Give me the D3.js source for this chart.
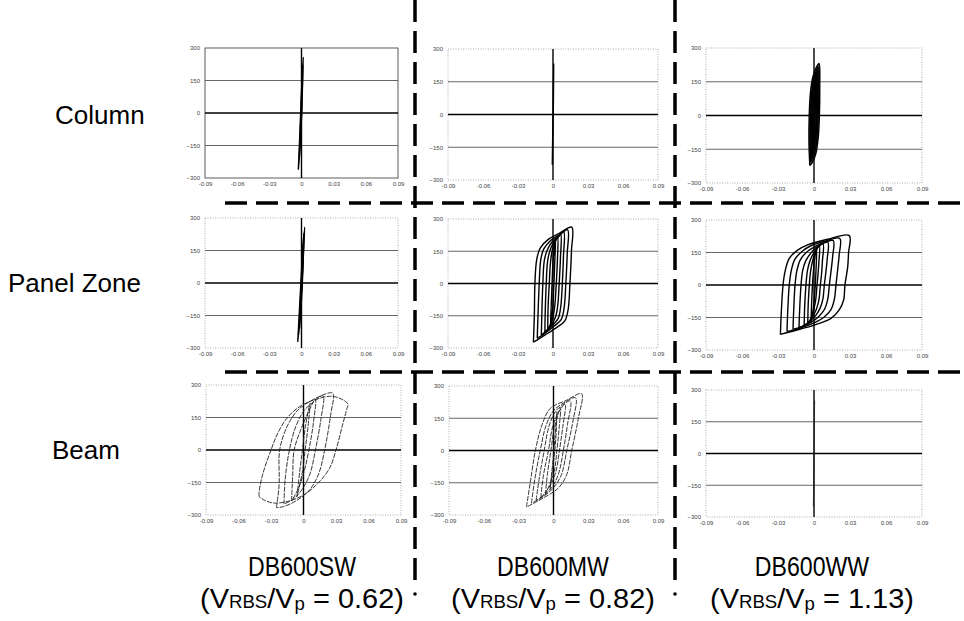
<!DOCTYPE html>
<html>
<head>
<meta charset="utf-8">
<script src="https://cdn.jsdelivr.net/npm/d3@7"></script>
<style>
  body { margin: 0; background: #fff; }
  svg { display: block; }
  text { font-family: "Liberation Sans", Arial, sans-serif; }
</style>
</head>
<body>
<svg width="964" height="621"></svg>
<script>
// Axis ticks
var xTicks = [-0.09, -0.06, -0.03, 0, 0.03, 0.06, 0.09];
var yTicks = [-300, -150, 0, 150, 300];

// Labels
var rowNames = ["Column", "Panel Zone", "Beam"];
var specimens = ["DB600SW", "DB600MW", "DB600WW"];
var shearRatios = ["0.62", "0.82", "1.13"];

// Hysteresis loops, [rotation, moment]
var columnSW = [
  [[-0.0030,-262],[-0.0020,-150],[-0.0008,0],[0.0004,150],[0.0017,258],[0.0010,150],[0.0000,0],[-0.0012,-150],[-0.0030,-262]],
  [[-0.0020,-200],[-0.0005,0],[0.0012,220],[0.0002,0],[-0.0020,-200]]
];
var columnMW = [
  [[-0.0006,-230],[0.0000,0],[0.0006,230],[0.0002,0],[-0.0006,-230]]
];
var columnWW = [
  [[-0.0035,-222],[-0.0042,-120],[-0.0040,0],[-0.0030,100],[-0.0010,170],[0.0020,215],[0.0042,231],[0.0048,130],[0.0045,0],[0.0035,-100],[0.0015,-170],[-0.0015,-210],[-0.0035,-222]],
  [[-0.0028,-205],[-0.0033,-100],[-0.0030,0],[-0.0020,100],[0.0000,165],[0.0035,215],[0.0040,110],[0.0035,0],[0.0025,-100],[0.0005,-165],[-0.0028,-205]],
  [[-0.0020,-190],[-0.0024,-80],[-0.0018,20],[-0.0008,110],[0.0028,200],[0.0030,90],[0.0024,-20],[0.0012,-110],[-0.0020,-190]],
  [[-0.0012,-170],[-0.0012,-50],[-0.0004,60],[0.0020,180],[0.0022,60],[0.0014,-60],[-0.0012,-170]],
  [[-0.0005,-150],[0.0000,0],[0.0014,160],[0.0008,0],[-0.0005,-150]]
];
var panelSW = [
  [[-0.0035,-272],[-0.0022,-150],[-0.0006,0],[0.0012,150],[0.0030,258],[0.0020,150],[0.0004,0],[-0.0014,-150],[-0.0035,-272]],
  [[-0.0028,-240],[-0.0012,-100],[0.0004,50],[0.0022,230],[0.0014,100],[-0.0002,-50],[-0.0028,-240]],
  [[-0.0018,-210],[0.0000,0],[0.0018,210],[0.0008,0],[-0.0018,-210]]
];
var panelMW = [
  [[-0.0168,-273],[-0.0160,-150],[-0.0155,0],[-0.0140,110],[-0.0110,165],[-0.0040,205],[0.0060,235],[0.0160,262],[0.0158,150],[0.0145,0],[0.0130,-120],[0.0100,-175],[0.0030,-205],[-0.0070,-240],[-0.0168,-273]],
  [[-0.0135,-255],[-0.0128,-140],[-0.0118,0],[-0.0105,110],[-0.0080,160],[-0.0020,200],[0.0060,228],[0.0125,250],[0.0122,140],[0.0110,0],[0.0095,-115],[0.0070,-168],[0.0010,-198],[-0.0060,-228],[-0.0135,-255]],
  [[-0.0100,-240],[-0.0095,-130],[-0.0087,0],[-0.0075,105],[-0.0050,155],[-0.0005,195],[0.0050,220],[0.0092,240],[0.0090,130],[0.0080,0],[0.0066,-110],[0.0045,-162],[0.0000,-192],[-0.0050,-218],[-0.0100,-240]],
  [[-0.0070,-228],[-0.0066,-120],[-0.0058,0],[-0.0047,100],[-0.0028,150],[0.0005,190],[0.0040,212],[0.0066,230],[0.0064,120],[0.0053,0],[0.0040,-105],[0.0022,-155],[-0.0005,-185],[-0.0040,-208],[-0.0070,-228]],
  [[-0.0045,-215],[-0.0042,-110],[-0.0032,0],[-0.0022,95],[-0.0008,150],[0.0010,185],[0.0028,205],[0.0040,218],[0.0038,110],[0.0028,0],[0.0016,-100],[0.0002,-150],[-0.0015,-180],[-0.0030,-200],[-0.0045,-215]],
  [[-0.0022,-205],[-0.0015,-100],[-0.0008,0],[0.0000,100],[0.0012,170],[0.0022,210],[0.0015,100],[0.0008,0],[0.0000,-100],[-0.0012,-170],[-0.0022,-205]]
];
var panelWW = [
  [[-0.0280,-228],[-0.0272,-120],[-0.0258,0],[-0.0242,61],[-0.0206,123],[-0.0136,161],[-0.0053,185],[0.0114,211],[0.0294,228],[0.0288,150],[0.0281,85],[0.0258,0],[0.0247,-69],[0.0210,-115],[0.0142,-154],[0.0000,-185],[-0.0164,-211],[-0.0280,-228]],
  [[-0.0225,-215],[-0.0218,-110],[-0.0206,0],[-0.0190,65],[-0.0160,118],[-0.0100,155],[-0.0030,180],[0.0100,203],[0.0215,215],[0.0210,140],[0.0195,60],[0.0183,0],[0.0170,-65],[0.0140,-115],[0.0080,-150],[0.0000,-175],[-0.0120,-200],[-0.0225,-215]],
  [[-0.0175,-205],[-0.0168,-100],[-0.0158,0],[-0.0143,65],[-0.0115,115],[-0.0065,150],[0.0000,175],[0.0080,195],[0.0160,205],[0.0155,130],[0.0140,55],[0.0128,0],[0.0115,-65],[0.0088,-112],[0.0040,-145],[-0.0020,-170],[-0.0100,-192],[-0.0175,-205]],
  [[-0.0125,-197],[-0.0118,-95],[-0.0108,0],[-0.0095,65],[-0.0070,110],[-0.0030,145],[0.0010,170],[0.0060,188],[0.0115,197],[0.0110,120],[0.0097,50],[0.0086,0],[0.0074,-65],[0.0050,-108],[0.0015,-140],[-0.0030,-165],[-0.0080,-185],[-0.0125,-197]],
  [[-0.0082,-190],[-0.0077,-90],[-0.0067,0],[-0.0055,65],[-0.0035,110],[-0.0005,145],[0.0030,172],[0.0075,190],[0.0070,110],[0.0062,45],[0.0053,0],[0.0042,-65],[0.0022,-108],[-0.0005,-140],[-0.0040,-168],[-0.0082,-190]],
  [[-0.0052,-182],[-0.0048,-85],[-0.0039,0],[-0.0028,65],[-0.0010,115],[0.0015,155],[0.0045,182],[0.0040,100],[0.0032,40],[0.0025,0],[0.0015,-65],[-0.0003,-115],[-0.0025,-155],[-0.0052,-182]],
  [[-0.0025,-175],[-0.0018,-60],[-0.0008,40],[0.0005,120],[0.0022,175],[0.0016,60],[0.0006,-40],[-0.0008,-120],[-0.0025,-175]]
];
var beamSW = [
  [[-0.0410,-215],[-0.0410,-195],[-0.0378,-115],[-0.0300,0],[-0.0230,85],[-0.0140,155],[-0.0020,205],[0.0120,235],[0.0260,248],[0.0350,235],[0.0410,212],[0.0400,190],[0.0360,115],[0.0300,0],[0.0240,-85],[0.0130,-155],[0.0010,-205],[-0.0130,-235],[-0.0270,-245],[-0.0360,-232],[-0.0410,-215]],
  [[-0.0250,-266],[-0.0225,-160],[-0.0220,0],[-0.0150,110],[-0.0050,185],[0.0080,230],[0.0200,258],[0.0270,262],[0.0250,160],[0.0195,0],[0.0140,-110],[0.0055,-185],[-0.0070,-235],[-0.0190,-262],[-0.0250,-266]],
  [[-0.0180,-250],[-0.0170,-140],[-0.0130,0],[-0.0070,110],[0.0010,185],[0.0100,225],[0.0180,250],[0.0160,140],[0.0110,0],[0.0060,-110],[-0.0010,-180],[-0.0090,-225],[-0.0180,-250]],
  [[-0.0110,-235],[-0.0100,-120],[-0.0086,0],[-0.0020,100],[0.0050,180],[0.0110,235],[0.0090,120],[0.0050,0],[0.0005,-100],[-0.0050,-180],[-0.0110,-235]],
  [[-0.0060,-215],[-0.0035,-100],[-0.0010,0],[0.0015,100],[0.0060,215],[0.0040,100],[0.0015,0],[-0.0010,-100],[-0.0060,-215]]
];
var beamMW = [
  [[-0.0233,-263],[-0.0199,-146],[-0.0156,0],[-0.0099,119],[-0.0028,196],[0.0114,234],[0.0242,264],[0.0214,150],[0.0157,0],[0.0114,-112],[0.0043,-174],[-0.0085,-220],[-0.0233,-263]],
  [[-0.0190,-245],[-0.0160,-130],[-0.0114,0],[-0.0065,115],[0.0000,185],[0.0100,225],[0.0190,245],[0.0165,130],[0.0114,0],[0.0070,-110],[0.0005,-170],[-0.0090,-215],[-0.0190,-245]],
  [[-0.0150,-232],[-0.0120,-120],[-0.0080,0],[-0.0040,110],[0.0015,180],[0.0080,212],[0.0145,230],[0.0120,120],[0.0085,0],[0.0045,-105],[-0.0005,-165],[-0.0075,-205],[-0.0150,-232]],
  [[-0.0110,-220],[-0.0085,-110],[-0.0043,0],[-0.0010,105],[0.0035,170],[0.0100,215],[0.0080,110],[0.0051,0],[0.0020,-100],[-0.0025,-160],[-0.0110,-220]],
  [[-0.0070,-205],[-0.0050,-100],[-0.0022,0],[0.0005,100],[0.0060,200],[0.0048,100],[0.0029,0],[0.0005,-100],[-0.0070,-205]],
  [[-0.0030,-180],[0.0000,-20],[0.0030,180],[0.0015,20],[-0.0030,-180]]
];
var beamWW = [
  [[-0.0005,-250],[0.0000,0],[0.0005,250],[0.0001,0],[-0.0005,-250]]
];

var panels = [
  [columnSW, columnMW, columnWW],
  [panelSW, panelMW, panelWW],
  [beamSW, beamMW, beamWW]
];

var svg = d3.select("svg");

// plot areas [left, right, top, bottom]
var boxes = [
  [[205, 398, 48, 178], [448, 658, 49, 180], [706, 922, 48, 183]],
  [[205, 398, 218, 348], [448, 658, 219, 348], [706, 922, 220, 350]],
  [[206, 401, 385, 515], [449, 658, 386, 515], [706, 922, 390, 517]]
];

var fmt = function(d) { return d === 0 ? "0" : d.toFixed(2); };

panels.forEach(function(row, r) {
  row.forEach(function(loops, c) {
    var b = boxes[r][c];
    var x = d3.scaleLinear().domain([-0.09, 0.09]).range([b[0], b[1]]);
    var y = d3.scaleLinear().domain([-300, 300]).range([b[3], b[2]]);
    var g = svg.append("g");

    // frame
    g.append("rect")
      .attr("x", b[0]).attr("y", b[2])
      .attr("width", b[1] - b[0]).attr("height", b[3] - b[2])
      .attr("fill", "none")
      .attr("stroke", r == 0 && c == 0 ? "#333" : "#999")
      .attr("stroke-width", 0.8)
      .attr("stroke-dasharray", r == 0 && c == 0 ? null : "1,1.5");

    // horizontal grid
    g.selectAll(".grid")
      .data(yTicks.filter(function(d) { return Math.abs(d) < 300; }))
      .enter().append("line")
      .attr("x1", b[0]).attr("x2", b[1])
      .attr("y1", function(d) { return y(d); })
      .attr("y2", function(d) { return y(d); })
      .attr("stroke", function(d) { return d == 0 ? "#000" : "#555"; })
      .attr("stroke-width", function(d) { return d == 0 ? 1.6 : 0.9; });

    // zero rotation line
    g.append("line")
      .attr("x1", x(0)).attr("x2", x(0))
      .attr("y1", y(300)).attr("y2", y(-300))
      .attr("stroke", "#000").attr("stroke-width", 1.4);

    // axes
    var ax = g.append("g")
      .attr("transform", "translate(0," + (b[3] + 1) + ")")
      .call(d3.axisBottom(x).tickValues(xTicks).tickSize(0).tickPadding(3).tickFormat(fmt));
    var ay = g.append("g")
      .attr("transform", "translate(" + (b[0] - 2) + ",0)")
      .call(d3.axisLeft(y).tickValues(yTicks).tickSize(0).tickPadding(3));
    [ax, ay].forEach(function(a) {
      a.select(".domain").remove();
      a.selectAll("text").attr("font-size", 6).attr("fill", "#444")
        .style("font-family", "'Liberation Sans', Arial, sans-serif");
    });

    // loops
    var line = d3.line()
      .x(function(d) { return x(d[0]); })
      .y(function(d) { return y(d[1]); })
      .curve(d3.curveCatmullRom.alpha(0.5));

    g.selectAll(".loop")
      .data(loops)
      .enter().append("path")
      .attr("d", line)
      .attr("fill", r == 0 && c == 2 ? "#222" : "none")
      .attr("fill-opacity", 0.8)
      .attr("stroke", r == 2 ? "#222" : "#000")
      .attr("stroke-width", r == 2 ? 0.9 : 1.4)
      .attr("stroke-dasharray", r == 2 ? "5,1.2" : null);
  });
});

// separators
var hLines = [203, 372];
var vLines = [415, 675];
svg.selectAll(".hsep")
  .data(hLines)
  .enter().append("line")
  .attr("x1", 225).attr("x2", 964)
  .attr("y1", function(d) { return d; }).attr("y2", function(d) { return d; })
  .attr("stroke", "#000").attr("stroke-width", 3.5)
  .attr("stroke-dasharray", "22,9");
svg.selectAll(".vsep")
  .data(vLines)
  .enter().append("line")
  .attr("x1", function(d) { return d; }).attr("x2", function(d) { return d; })
  .attr("y1", 0).attr("y2", 584)
  .attr("stroke", "#000").attr("stroke-width", 3.5)
  .attr("stroke-dasharray", "22,9");
svg.selectAll(".vdot")
  .data(vLines)
  .enter().append("circle")
  .attr("cx", function(d) { return d; }).attr("cy", 594)
  .attr("r", 1.8).attr("fill", "#000");

// row labels
var rowX = [55, 8, 52];
var rowY = [124, 292, 459];
svg.selectAll(".rowname")
  .data(rowNames)
  .enter().append("text")
  .attr("x", function(d, i) { return rowX[i]; })
  .attr("y", function(d, i) { return rowY[i]; })
  .attr("font-size", 26)
  .attr("fill", "#000")
  .text(function(d) { return d; });

// specimen labels
var colX = [302, 553, 812];
var l1 = svg.selectAll(".spec")
  .data(specimens)
  .enter().append("g")
  .attr("transform", function(d, i) { return "translate(" + colX[i] + ",576)"; })
  .append("text")
  .attr("text-anchor", "middle")
  .attr("font-size", 27)
  .text(function(d) { return d; });

var l2 = svg.selectAll(".ratio")
  .data(shearRatios)
  .enter().append("g")
  .attr("transform", function(d, i) { return "translate(" + colX[i] + ",608)"; })
  .append("text")
  .attr("text-anchor", "middle")
  .attr("font-size", 28);
l2.append("tspan").text("(V");
l2.append("tspan").attr("font-size", 18).text("RBS");
l2.append("tspan").text("/V");
l2.append("tspan").attr("font-size", 18).attr("dy", 2).text("p");
l2.append("tspan").attr("dy", -2).text(function(d) { return " = " + d + ")"; });

// squeeze lines to the widths in the picture
var s1 = 108 / l1.node().getComputedTextLength();
var s2 = 204 / l2.node().getComputedTextLength();
l1.attr("transform", "scale(" + s1 + ",1)");
l2.attr("transform", "scale(" + s2 + ",1)");
</script>
</body>
</html>
